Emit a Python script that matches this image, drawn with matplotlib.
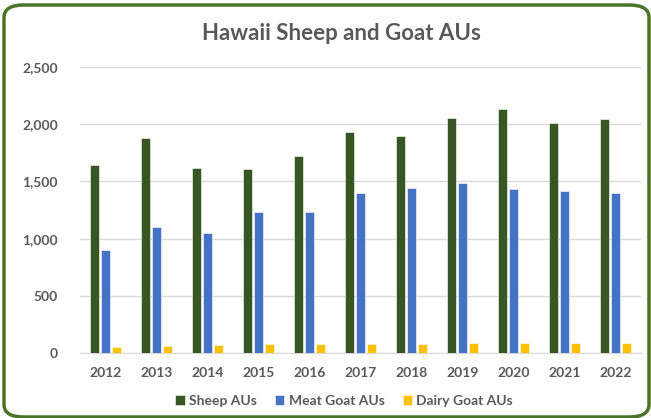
import matplotlib.pyplot as plt
from matplotlib.patches import FancyBboxPatch
import numpy as np

years = ["2012", "2013", "2014", "2015", "2016", "2017",
         "2018", "2019", "2020", "2021", "2022"]
sheep = [1640, 1880, 1620, 1605, 1722, 1930, 1900, 2058, 2130, 2010, 2049]
meat_goat = [898, 1099, 1049, 1233, 1233, 1396, 1440, 1483, 1434, 1420, 1396]
dairy_goat = [52, 61, 70, 76, 76, 76, 76, 85, 85, 85, 85]

series = [("Sheep AUs", sheep, "#375623"),
          ("Meat Goat AUs", meat_goat, "#4472C4"),
          ("Dairy Goat AUs", dairy_goat, "#FFC000")]

plt.rcParams['font.family'] = ['Lato', 'DejaVu Sans']
text_color = "#595959"

W, H = 651, 418
fig = plt.figure(figsize=(W / 100, H / 100), dpi=100)

# rounded green frame, drawn behind the axes
frame = FancyBboxPatch((4 / W, 1 / H), 645 / W, 412 / H,
                       boxstyle="round,pad=0,rounding_size=0.03",
                       transform=fig.transFigure, facecolor="white",
                       edgecolor="#4A7428", linewidth=2.5, zorder=-1)
fig.patches.append(frame)

ax = fig.add_axes([80 / W, (H - 353) / H, (641 - 80) / W, (353 - 67) / H])
ax.set_facecolor("none")

x = np.arange(len(years))
bw = 0.185
gap = 0.03
for i, (name, vals, col) in enumerate(series):
    ax.bar(x + (i - 1) * (bw + gap), vals, width=bw, color=col,
           edgecolor="white", linewidth=0.4, label=name, zorder=3)

ax.set_xlim(-0.5, len(years) - 0.5)
ax.set_ylim(0, 2500)
ax.set_yticks(range(0, 2501, 500))
ax.set_yticklabels([f"{v:,}" for v in range(0, 2501, 500)])
ax.set_xticks(x)
ax.set_xticklabels(years)
ax.grid(axis="y", color="#D9D9D9", linewidth=1, zorder=0)
for s in ["top", "right", "left"]:
    ax.spines[s].set_visible(False)
ax.spines["bottom"].set_color("#D9D9D9")
ax.tick_params(length=0, colors=text_color, labelsize=10)
for lab in ax.get_xticklabels() + ax.get_yticklabels():
    lab.set_fontweight("bold")
ax.tick_params(axis="y", pad=16)
ax.tick_params(axis="x", pad=10)

fig.text(341 / W, 1 - 33 / H, "Hawaii Sheep and Goat AUs", ha="center",
         va="center", fontsize=16, fontweight="bold", color=text_color)

leg = fig.legend(loc="center", bbox_to_anchor=(344 / W, 1 - 401 / H), ncol=3,
                 frameon=False, handlelength=0.7, handleheight=0.7,
                 handletextpad=0.3, columnspacing=1.3,
                 prop={"size": 10, "weight": "bold"})
for t in leg.get_texts():
    t.set_color(text_color)

fig.savefig("out.png", dpi=100)
